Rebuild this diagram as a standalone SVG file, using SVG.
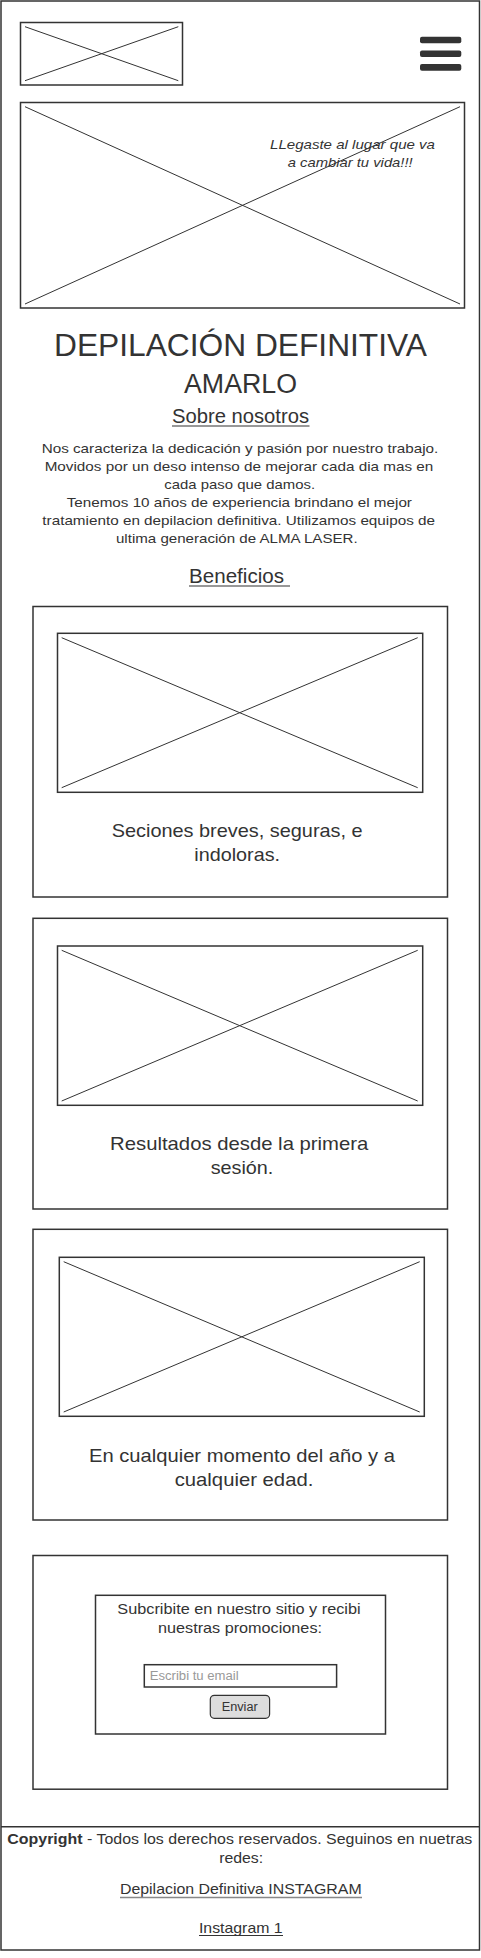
<svg xmlns="http://www.w3.org/2000/svg" width="481" height="1958" viewBox="0 0 481 1958">
<style>
.box{fill:none;stroke:#333;stroke-width:1.5}
.x{stroke:#333;stroke-width:1;fill:none}
.t{font-family:"Liberation Sans",Arial,sans-serif;fill:#333;text-anchor:middle}
.ul{stroke:#333;stroke-width:1.2}
</style>
<rect width="481" height="1958" fill="#fff"/>
<g id="frame">
<rect class="box" x="1" y="1" width="478.5" height="1949"/>
<line class="box" x1="1" y1="1826.7" x2="479.5" y2="1826.7"/>
</g>
<g id="logo">
<rect class="box" x="20.5" y="22.5" width="162" height="62.5"/>
<line class="x" x1="25" y1="26.7" x2="178.3" y2="80.7"/>
<line class="x" x1="25" y1="80.7" x2="178.3" y2="26.7"/>
</g>
<g id="menu" fill="#333">
<rect x="420" y="36.7" width="41.3" height="6.6" rx="2"/>
<rect x="420" y="50.4" width="41.3" height="6.6" rx="2"/>
<rect x="420" y="64.1" width="41.3" height="6.6" rx="2"/>
</g>
<g id="hero">
<rect class="box" x="20.5" y="102.5" width="444" height="205.5"/>
<line class="x" x1="25" y1="106.7" x2="460" y2="304"/>
<line class="x" x1="25" y1="304" x2="460" y2="106.7"/>
<text class="t" font-style="italic" font-size="13.5" x="352.5" y="149" textLength="165" lengthAdjust="spacingAndGlyphs">LLegaste al lugar que va</text>
<text class="t" font-style="italic" font-size="13.5" x="350.2" y="167" textLength="125" lengthAdjust="spacingAndGlyphs">a cambiar tu vida!!!</text>
</g>
<g id="title">
<text class="t" font-size="31" x="240.5" y="355.7" textLength="373" lengthAdjust="spacingAndGlyphs">DEPILACIÓN DEFINITIVA</text>
<text class="t" font-size="27" x="240.5" y="392.7" textLength="113" lengthAdjust="spacingAndGlyphs">AMARLO</text>
</g>
<g id="sobre">
<text class="t" font-size="19.5" x="240.5" y="422.5" textLength="137" lengthAdjust="spacingAndGlyphs">Sobre nosotros</text>
<line class="ul" x1="172" y1="426" x2="309.5" y2="426"/>
<g font-size="13.2">
<text class="t" x="240" y="453" textLength="396.7" lengthAdjust="spacingAndGlyphs">Nos caracteriza la dedicación y pasión por nuestro trabajo.</text>
<text class="t" x="239" y="471" textLength="388.7" lengthAdjust="spacingAndGlyphs">Movidos por un deso intenso de mejorar cada dia mas en</text>
<text class="t" x="239.7" y="489" textLength="150.7" lengthAdjust="spacingAndGlyphs">cada paso que damos.</text>
<text class="t" x="239.3" y="507" textLength="345.3" lengthAdjust="spacingAndGlyphs">Tenemos 10 años de experiencia brindano el mejor</text>
<text class="t" x="238.7" y="525" textLength="392.7" lengthAdjust="spacingAndGlyphs">tratamiento en depilacion definitiva. Utilizamos equipos de</text>
<text class="t" x="236.8" y="543" textLength="241.7" lengthAdjust="spacingAndGlyphs">ultima generación de ALMA LASER.</text>
</g>
</g>
<g id="beneficios">
<text class="t" font-size="19.5" x="236.5" y="583" textLength="95" lengthAdjust="spacingAndGlyphs">Beneficios</text>
<line class="ul" x1="189" y1="586" x2="290" y2="586"/>
</g>
<g id="card1">
<rect class="box" x="33" y="606.5" width="414.5" height="290.5"/>
<rect class="box" x="57.5" y="633.3" width="365.2" height="159"/>
<line class="x" x1="61.7" y1="637.7" x2="417.7" y2="787.7"/>
<line class="x" x1="61.7" y1="787.7" x2="417.7" y2="637.7"/>
<text class="t" font-size="18.5" x="237.2" y="837.3" textLength="251" lengthAdjust="spacingAndGlyphs">Seciones breves, seguras, e</text>
<text class="t" font-size="18.5" x="237.2" y="861" textLength="85.7" lengthAdjust="spacingAndGlyphs">indoloras.</text>
</g>
<g id="card2">
<rect class="box" x="33" y="918.3" width="414.5" height="290.7"/>
<rect class="box" x="57.5" y="946" width="365.2" height="159.3"/>
<line class="x" x1="61.7" y1="950.3" x2="417.7" y2="1101"/>
<line class="x" x1="61.7" y1="1101" x2="417.7" y2="950.3"/>
<text class="t" font-size="18.5" x="239.2" y="1150" textLength="258.3" lengthAdjust="spacingAndGlyphs">Resultados desde la primera</text>
<text class="t" font-size="18.5" x="242" y="1174" textLength="62.7" lengthAdjust="spacingAndGlyphs">sesión.</text>
</g>
<g id="card3">
<rect class="box" x="33" y="1229.3" width="414.5" height="290.7"/>
<rect class="box" x="59.3" y="1257.3" width="365" height="159"/>
<line class="x" x1="63.7" y1="1261.7" x2="419.7" y2="1412"/>
<line class="x" x1="63.7" y1="1412" x2="419.7" y2="1261.7"/>
<text class="t" font-size="18.5" x="242" y="1462.3" textLength="306" lengthAdjust="spacingAndGlyphs">En cualquier momento del año y a</text>
<text class="t" font-size="18.5" x="244" y="1486" textLength="138.7" lengthAdjust="spacingAndGlyphs">cualquier edad.</text>
</g>
<g id="subscribe">
<rect class="box" x="33" y="1555.5" width="414.5" height="233.7"/>
<rect class="box" x="95.5" y="1595.3" width="290" height="138.7"/>
<text class="t" font-size="14.8" x="239" y="1614" textLength="243.3" lengthAdjust="spacingAndGlyphs">Subcribite en nuestro sitio y recibi</text>
<text class="t" font-size="14.8" x="240" y="1632.5" textLength="164" lengthAdjust="spacingAndGlyphs">nuestras promociones:</text>
<rect class="box" x="144.3" y="1664.7" width="192.3" height="22.3" fill="#fff"/>
<text font-family="Liberation Sans,Arial,sans-serif" font-size="12" fill="#999" x="149.7" y="1680" textLength="89" lengthAdjust="spacingAndGlyphs">Escribi tu email</text>
<rect x="210.3" y="1695.3" width="59.3" height="23" rx="4" fill="#ddd" stroke="#333" stroke-width="1.2"/>
<text class="t" font-size="12.5" x="239.7" y="1711" textLength="36" lengthAdjust="spacingAndGlyphs">Enviar</text>
</g>
<g id="footer">
<text class="t" font-size="14.8" x="239.8" y="1844" textLength="465" lengthAdjust="spacingAndGlyphs"><tspan font-weight="bold">Copyright</tspan> - Todos los derechos reservados. Seguinos en nuetras</text>
<text class="t" font-size="14.8" x="241.2" y="1862.7" textLength="44" lengthAdjust="spacingAndGlyphs">redes:</text>
<text class="t" font-size="14.8" x="240.8" y="1894" textLength="241.7" lengthAdjust="spacingAndGlyphs">Depilacion Definitiva INSTAGRAM</text>
<line x1="120" y1="1897.5" x2="362" y2="1897.5" stroke="#888" stroke-width="1.3"/>
<text class="t" font-size="14.8" x="240.8" y="1932.5" textLength="83.7" lengthAdjust="spacingAndGlyphs">Instagram 1</text>
<line class="ul" x1="199" y1="1935.5" x2="283" y2="1935.5"/>
</g>
</svg>
